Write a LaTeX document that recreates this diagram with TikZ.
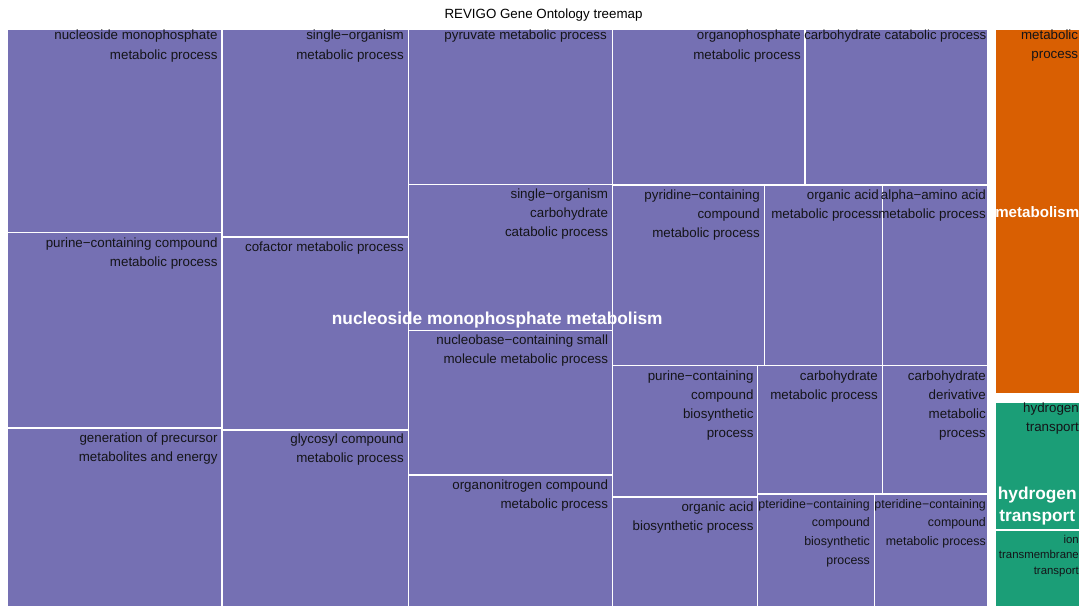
\documentclass[tikz,border=0pt]{standalone}
\usepackage{fontspec}
\setmainfont{Liberation Sans}
\definecolor{gpurple}{HTML}{7570B3}
\definecolor{gorange}{HTML}{D95F02}
\definecolor{ggreen}{HTML}{1B9E77}
\definecolor{lbltext}{HTML}{141418}
\newcommand\rtl[1]{\begin{tabular}[t]{@{}r@{}}#1\end{tabular}}
\newcommand\ctl[1]{\begin{tabular}[t]{@{}c@{}}#1\end{tabular}}
\begin{document}
\begin{tikzpicture}[x=1pt,y=-1pt,
  cellbox/.style={draw=white, line width=1.3pt},
  lbl/.style={anchor=base east, inner sep=0pt, text=lbltext,
    font=\fontsize{13.34}{19.2}\selectfont},
  smalllbl/.style={lbl, font=\fontsize{11.4}{15.5}\selectfont},
  fitlbl/.style={lbl, font=\fontsize{12.4}{18.6}\selectfont},
  grp/.style={anchor=base, inner sep=0pt, text=white,
    font=\bfseries\fontsize{17.3}{21.7}\selectfont},
  titlestyle/.style={anchor=base, inner sep=0pt, text=black,
    font=\fontsize{13.34}{16}\selectfont},
]
\useasboundingbox (0,0) rectangle (1083,607);
\fill[white] (0,0) rectangle (1083,607);

% group backgrounds
\fill[gpurple] (7,29) rectangle (987.5,607);
\fill[gorange] (995,29) rectangle (1079.5,394);
\fill[ggreen] (995,402) rectangle (1079.5,607);

% purple cells
\path[cellbox] (7,29) rectangle (222,232.5);
\path[cellbox] (7,232.5) rectangle (222,428);
\path[cellbox] (7,428) rectangle (222,607);
\path[cellbox] (222,29) rectangle (408.5,237);
\path[cellbox] (222,237) rectangle (408.5,430);
\path[cellbox] (222,430) rectangle (408.5,607);
\path[cellbox] (408.5,29) rectangle (612.3,184.5);
\path[cellbox] (408.5,184.5) rectangle (612.3,330.5);
\path[cellbox] (408.5,330.5) rectangle (612.3,475);
\path[cellbox] (408.5,475) rectangle (612.3,607);
\path[cellbox] (612.3,29) rectangle (805,185);
\path[cellbox] (805,29) rectangle (987.5,185);
\path[cellbox] (612.3,185) rectangle (764.3,365.7);
\path[cellbox] (764.3,185) rectangle (882.5,365.7);
\path[cellbox] (882.5,185) rectangle (987.5,365.7);
\path[cellbox] (612.3,365.7) rectangle (757.7,497);
\path[cellbox] (612.3,497) rectangle (757.7,607);
\path[cellbox] (757.7,365.7) rectangle (882.7,494);
\path[cellbox] (882.7,365.7) rectangle (987.5,494);
\path[cellbox] (757.7,494) rectangle (874.3,607);
\path[cellbox] (874.3,494) rectangle (987.5,607);
% orange / green cells
\path[cellbox] (995,29) rectangle (1079.5,394);
\path[cellbox] (995,402) rectangle (1079.5,530);
\path[cellbox] (995,530) rectangle (1079.5,607);

% title
\node[titlestyle] (title) at (543.5,18.5) {REVIGO Gene Ontology treemap};

% cell labels
\node[lbl] (a1) at (217.7,40) {\rtl{nucleoside monophosphate\\metabolic process}};
\node[lbl] (a2) at (217.7,247) {\rtl{purine−containing compound\\metabolic process}};
\node[lbl] (a3) at (217.7,442) {\rtl{generation of precursor\\metabolites and energy}};
\node[lbl] (b1) at (404,40) {\rtl{single−organism\\metabolic process}};
\node[lbl] (b2) at (404,251) {\rtl{cofactor metabolic process}};
\node[lbl] (b3) at (404,443.5) {\rtl{glycosyl compound\\metabolic process}};
\node[lbl] (c1) at (607,40) {\rtl{pyruvate metabolic process}};
\node[lbl] (c2) at (608.3,198.5) {\rtl{single−organism\\carbohydrate\\catabolic process}};
\node[lbl] (c3) at (608.3,344.5) {\rtl{nucleobase−containing small\\molecule metabolic process}};
\node[lbl] (c4) at (608.3,489) {\rtl{organonitrogen compound\\metabolic process}};
\node[lbl] (d1) at (801,40) {\rtl{organophosphate\\metabolic process}};
\node[lbl, font=\fontsize{13.15}{19}\selectfont] (d2) at (986.5,40) {\rtl{carbohydrate catabolic process}};
\node[lbl] (e1) at (760,199) {\rtl{pyridine−containing\\compound\\metabolic process}};
\node[lbl] (e2) at (879,199) {\rtl{organic acid\\metabolic process}};
\node[lbl] (e3) at (986,199) {\rtl{alpha−amino acid\\metabolic process}};
\node[lbl] (f1) at (753.7,380) {\rtl{purine−containing\\compound\\biosynthetic\\process}};
\node[lbl] (f2) at (753.7,511) {\rtl{organic acid\\biosynthetic process}};
\node[lbl] (g1) at (878,380) {\rtl{carbohydrate\\metabolic process}};
\node[lbl] (g2) at (986,380) {\rtl{carbohydrate\\derivative\\metabolic\\process}};
\node[fitlbl] (h1) at (870,508.3) {\rtl{pteridine−containing\\compound\\biosynthetic\\process}};
\node[fitlbl] (h2) at (986,508.3) {\rtl{pteridine−containing\\compound\\metabolic process}};
\node[lbl] (o1) at (1078.3,39.5) {\rtl{metabolic\\process}};
\node[lbl] (gr1) at (1079,412.3) {\rtl{hydrogen\\transport}};
\node[smalllbl] (gr2) at (1079,543.3) {\rtl{ion\\transmembrane\\transport}};

% group labels
\node[grp] (gpurple) at (497.25,324.3) {nucleoside monophosphate metabolism};
\node[grp, font=\bfseries\fontsize{15.1}{18}\selectfont] (gorange) at (1037.25,217) {metabolism};
\node[grp] (ggreen) at (1037.25,499.3) {\ctl{hydrogen\\transport}};
\end{tikzpicture}
\end{document}
